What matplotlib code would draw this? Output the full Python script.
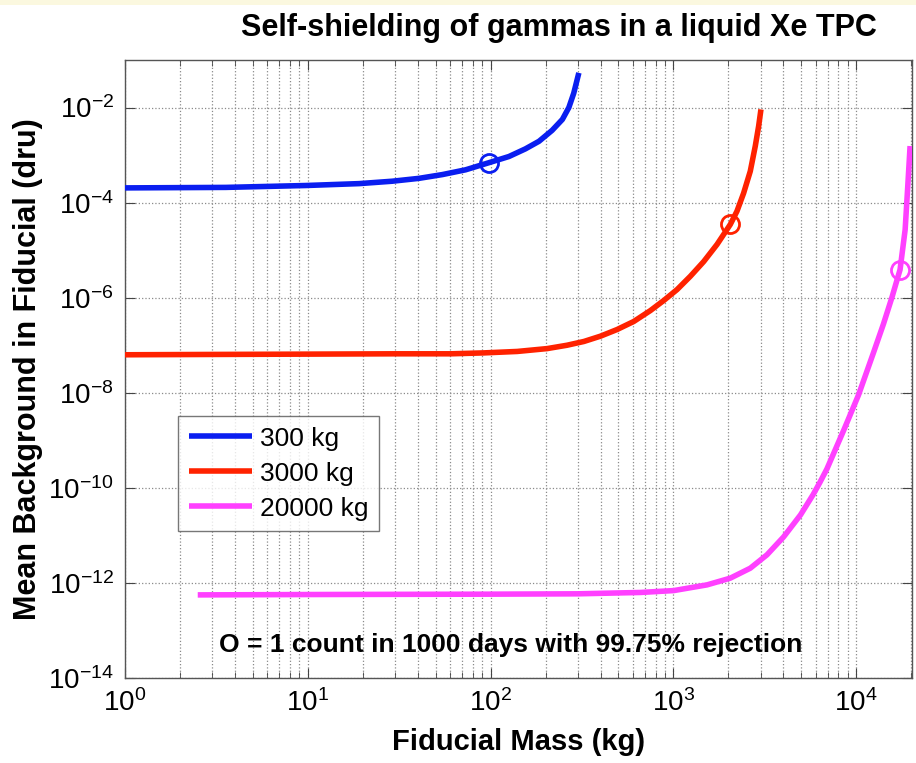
import numpy as np
import matplotlib
matplotlib.use("Agg")
import matplotlib.pyplot as plt
from matplotlib.ticker import FixedLocator, FuncFormatter, NullFormatter, NullLocator
from matplotlib.patches import Rectangle

plt.rcParams['font.family'] = ['Liberation Sans', 'DejaVu Sans']
plt.rcParams['mathtext.fontset'] = 'custom'
plt.rcParams['mathtext.rm'] = 'Liberation Sans'
plt.rcParams['mathtext.it'] = 'Liberation Sans:italic'
plt.rcParams['mathtext.bf'] = 'Liberation Sans:bold'

# ---- data ----
labels = ["300 kg", "3000 kg", "20000 kg"]

mass_300 = [1, 3.56, 9.75, 19.1, 29, 40.6, 54.5, 73, 98, 126, 155, 184, 217,
            247, 268, 285, 304]
bkg_300 = [2.04e-4, 2.09e-4, 2.29e-4, 2.51e-4, 2.82e-4, 3.24e-4, 3.89e-4,
           4.90e-4, 6.92e-4, 9.33e-4, 1.35e-3, 1.95e-3, 3.31e-3, 5.62e-3,
           1.0e-2, 2.0e-2, 5.37e-2]

mass_3000 = [1, 3, 10, 30, 60.4, 91.9, 140, 204, 262, 324, 399, 492, 607, 749,
             885, 1047, 1238, 1465, 1733, 2048, 2228, 2422, 2634, 2806, 2927,
             3013]
bkg_3000 = [6.3e-8, 6.4e-8, 6.5e-8, 6.6e-8, 6.6e-8, 6.9e-8, 7.4e-8, 8.5e-8,
            1.0e-7, 1.2e-7, 1.55e-7, 2.14e-7, 3.16e-7, 5.37e-7, 8.71e-7,
            1.48e-6, 2.82e-6, 5.75e-6, 1.32e-5, 3.47e-5, 6.61e-5, 1.58e-4,
            4.57e-4, 1.55e-3, 4.07e-3, 9.12e-3]

mass_20000 = [2.5, 5, 10, 30, 100, 300, 661, 1004, 1528, 2048, 2634, 3250,
              4009, 4960, 5800, 6330, 6916, 8531, 10300, 12440, 14100, 15670,
              17380, 18530, 19150, 19720]
bkg_20000 = [5.6e-13, 5.65e-13, 5.7e-13, 5.75e-13, 5.8e-13, 5.9e-13, 6.3e-13,
             6.9e-13, 9.1e-13, 1.26e-12, 2.04e-12, 3.9e-12, 9.3e-12, 2.7e-11,
             7.1e-11, 1.3e-10, 2.5e-10, 1.6e-9, 9.0e-9, 7.0e-8, 2.8e-7,
             1.0e-6, 3.9e-6, 2.7e-5, 2.2e-4, 1.55e-3]

marker_mass = [98, 2048, 17380]
marker_bkg = [6.92e-4, 3.47e-5, 3.9e-6]

x_ticks = [1e0, 1e1, 1e2, 1e3, 1e4]
y_ticks = [1e-14, 1e-12, 1e-10, 1e-8, 1e-6, 1e-4, 1e-2]

colors = ["#0a1ef0", "#ff2200", "#ff40ff"]

# ---- figure ----
fig = plt.figure(figsize=(9.16, 7.63), dpi=100)
fig.patches.append(Rectangle((0, 0.993), 1, 0.007, transform=fig.transFigure,
                             facecolor="#fbf8df", edgecolor="none", zorder=0))
ax = fig.add_axes([125/916, 1 - 678/763, 787/916, 618/763])

series = [(mass_300, bkg_300), (mass_3000, bkg_3000), (mass_20000, bkg_20000)]
for (xs, ys), c, lab in zip(series, colors, labels):
    ax.plot(xs, ys, color=c, lw=4, label=lab, solid_capstyle='butt',
            solid_joinstyle='round', zorder=3)
for xm, ym, c in zip(marker_mass, marker_bkg, colors):
    ax.plot([xm], [ym], 'o', mfc='none', mec=c, ms=13, mew=2, zorder=4)

ax.set_xscale('log')
ax.set_yscale('log')
ax.set_xlim(1, 2.02e4)
ax.set_ylim(1e-14, 1e-1)

minor_x = [m * 10.0**d for d in range(0, 5) for m in range(2, 10) if m * 10.0**d < 2.02e4]
ax.xaxis.set_major_locator(FixedLocator(x_ticks))
ax.xaxis.set_minor_locator(FixedLocator(minor_x))
ax.xaxis.set_minor_formatter(NullFormatter())
ax.yaxis.set_major_locator(FixedLocator(y_ticks))
ax.yaxis.set_minor_locator(NullLocator())
ax.yaxis.set_minor_formatter(NullFormatter())

def fmt(v, pos):
    e = int(round(np.log10(v)))
    return r"$\mathregular{10^{%d}}$" % e

ax.xaxis.set_major_formatter(FuncFormatter(fmt))
ax.yaxis.set_major_formatter(FuncFormatter(fmt))

ax.tick_params(which='both', direction='in', top=True, right=True,
               colors='#444444', labelcolor='black')
ax.tick_params(which='major', length=7, labelsize=20, pad=8)
ax.tick_params(which='minor', length=4)
for s in ax.spines.values():
    s.set_color('#555555')
    s.set_linewidth(1.0)

ax.grid(True, which='major', axis='both', linestyle=':', color='#8a8a8a', lw=0.9)
ax.grid(True, which='minor', axis='x', linestyle=':', color='#8a8a8a', lw=0.9)
ax.set_axisbelow(True)

fig.text(559/916, 1 - 28/763, "Self-shielding of gammas in a liquid Xe TPC",
         fontsize=22, fontweight='bold', ha='center', va='center')
ax.set_xlabel("Fiducial Mass (kg)", fontsize=21, fontweight='bold', labelpad=8)
ax.set_ylabel("Mean Background in Fiducial (dru)", fontsize=22, fontweight='bold',
              labelpad=4)

leg = ax.legend(loc='upper left', bbox_to_anchor=(53/787, 1 - 356/618),
                fontsize=19, frameon=True, fancybox=False, handlelength=2.4,
                handletextpad=0.3, borderpad=0.4, labelspacing=0.42,
                borderaxespad=0)
leg.get_frame().set_edgecolor('#555555')
leg.get_frame().set_linewidth(1.0)

ax.text(0.49, 0.053, "O = 1 count in 1000 days with 99.75% rejection",
        transform=ax.transAxes, ha='center', va='center', fontsize=19,
        fontweight='bold')

fig.savefig("out.png", dpi=100)
